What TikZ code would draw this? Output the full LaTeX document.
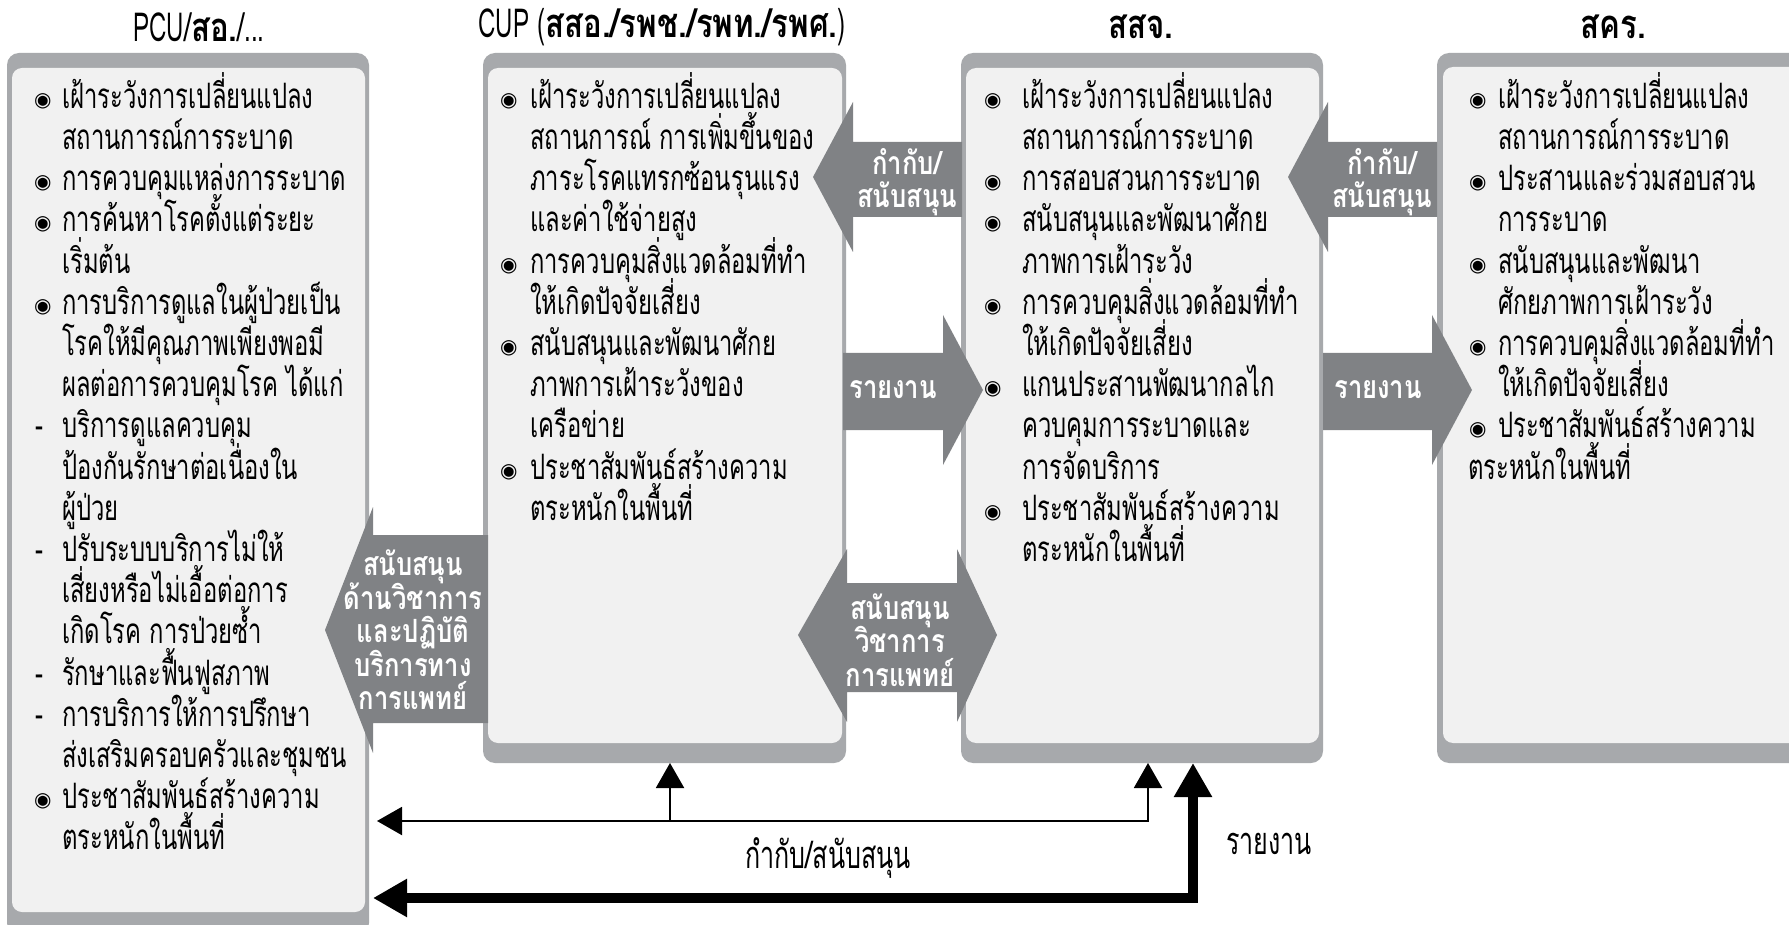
\documentclass[tikz,border=0pt]{standalone}
\usepackage{fontspec}
\usetikzlibrary{arrows.meta}
\newfontfamily\bodyfont[Script=Thai,FakeStretch=0.68]{Loma}
\newfontfamily\condfont[Script=Thai,FakeStretch=0.66]{Loma}
\newfontfamily\ttlfont[Script=Thai,FakeStretch=0.78]{Loma}
\newfontfamily\latfont[FakeStretch=0.6]{Loma}
\newfontfamily\lblfont[Script=Thai,FakeStretch=0.8]{Loma}
\newfontfamily\symfont{DejaVu Sans}
\definecolor{outerg}{HTML}{A7A9AC}
\definecolor{innerg}{HTML}{F1F1F1}
\definecolor{arrg}{HTML}{808285}
\setlength{\lineskiplimit}{-100pt}
\newcommand\bul[1]{\makebox[#1][l]{\raisebox{2pt}{\symfont\fontsize{20pt}{20pt}\selectfont ◉}}}
\newcommand\dsh[1]{\makebox[#1][l]{\hspace*{1pt}-}}
\newcommand\ind[1]{\hspace*{#1}}
\newcommand\tall{\rule{0pt}{40pt}}
\tikzset{
  obox/.style={fill=outerg, rounded corners=12pt, inner sep=0pt, outer sep=0pt, anchor=north west},
  ibox/.style={fill=innerg, rounded corners=10pt},
  body/.style={font=\bodyfont\fontsize{35pt}{41.2pt}\selectfont, align=left, inner sep=0pt, anchor=north west},
  ttl/.style={font=\ttlfont\bfseries\fontsize{40pt}{44pt}\selectfont, inner sep=0pt},
  lbl/.style={font=\lblfont\bfseries\fontsize{32pt}{33.5pt}\selectfont, text=white, align=center, inner sep=0pt},
  blabel/.style={font=\condfont\fontsize{38pt}{42pt}\selectfont, inner sep=0pt},
  thinln/.style={line width=2pt, draw=black},
  thickln/.style={line width=10pt, draw=black},
  tipthin/.tip={Triangle[length=25pt,width=28pt]},
  tipthick/.tip={Triangle[length=34pt,width=36pt]},
}
\begin{document}
\begin{tikzpicture}[x=1pt,y=-1pt]
\clip (0,0) rectangle (1789,925);
\fill[white] (0,0) rectangle (1789,925);

% titles
\node[ttl] (t1) at (199,27) {{\latfont\mdseries PCU/}สอ.{\latfont\mdseries /...}};
\node[ttl] (t2) at (662,27) {{\latfont\mdseries CUP (}สสอ./รพช./รพท./รพศ.{\latfont\mdseries )}};
\node[ttl] (t3) at (1141,27) {สสจ.};
\node[ttl] (t4) at (1613,27) {สคร.};

% boxes
\node[obox, minimum width=362pt, minimum height=882pt] (pcu) at (7,53) {};
\fill[ibox] (12,68) rectangle (365,912);
\node[obox, minimum width=363pt, minimum height=710pt] (cup) at (483,53) {};
\fill[ibox] (488,68) rectangle (842,743);
\node[obox, minimum width=362pt, minimum height=710pt] (ssj) at (961,53) {};
\fill[ibox] (966,68) rectangle (1319,743);
\node[obox, minimum width=380pt, minimum height=710pt] (skr) at (1437,53) {};
\fill[ibox] (1443,67) rectangle (1820,743);

% texts
\node[body] (pcutxt) at (34,68) {\tall\bul{28pt}เฝ้าระวังการเปลี่ยนแปลง\\
\ind{28pt}สถานการณ์การระบาด\\
\bul{28pt}การควบคุมแหล่งการระบาด\\
\bul{28pt}การค้นหาโรคตั้งแต่ระยะ\\
\ind{28pt}เริ่มต้น\\
\bul{28pt}การบริการดูแลในผู้ป่วยเป็น\\
\ind{28pt}โรคให้มีคุณภาพเพียงพอมี\\
\ind{28pt}ผลต่อการควบคุมโรค ได้แก่\\
\dsh{28pt}บริการดูแลควบคุม\\
\ind{28pt}ป้องกันรักษาต่อเนื่องใน\\
\ind{28pt}ผู้ป่วย\\
\dsh{28pt}ปรับระบบบริการไม่ให้\\
\ind{28pt}เสี่ยงหรือไม่เอื้อต่อการ\\
\ind{28pt}เกิดโรค การป่วยซ้ำ\\
\dsh{28pt}รักษาและฟื้นฟูสภาพ\\
\dsh{28pt}การบริการให้การปรึกษา\\
\ind{28pt}ส่งเสริมครอบครัวและชุมชน\\
\bul{28pt}ประชาสัมพันธ์สร้างความ\\
\ind{28pt}ตระหนักในพื้นที่};

\node[body] (cuptxt) at (500,68) {\tall\bul{30pt}เฝ้าระวังการเปลี่ยนแปลง\\
\ind{30pt}สถานการณ์ การเพิ่มขึ้นของ\\
\ind{30pt}ภาระโรคแทรกซ้อนรุนแรง\\
\ind{30pt}และค่าใช้จ่ายสูง\\
\bul{30pt}การควบคุมสิ่งแวดล้อมที่ทำ\\
\ind{30pt}ให้เกิดปัจจัยเสี่ยง\\
\bul{30pt}สนับสนุนและพัฒนาศักย\\
\ind{30pt}ภาพการเฝ้าระวังของ\\
\ind{30pt}เครือข่าย\\
\bul{30pt}ประชาสัมพันธ์สร้างความ\\
\ind{30pt}ตระหนักในพื้นที่};

\node[body] (ssjtxt) at (984,68) {\tall\bul{38pt}เฝ้าระวังการเปลี่ยนแปลง\\
\ind{38pt}สถานการณ์การระบาด\\
\bul{38pt}การสอบสวนการระบาด\\
\bul{38pt}สนับสนุนและพัฒนาศักย\\
\ind{38pt}ภาพการเฝ้าระวัง\\
\bul{38pt}การควบคุมสิ่งแวดล้อมที่ทำ\\
\ind{38pt}ให้เกิดปัจจัยเสี่ยง\\
\bul{38pt}แกนประสานพัฒนากลไก\\
\ind{38pt}ควบคุมการระบาดและ\\
\ind{38pt}การจัดบริการ\\
\bul{38pt}ประชาสัมพันธ์สร้างความ\\
\ind{38pt}ตระหนักในพื้นที่};

\node[body] (skrtxt) at (1468,68) {\tall\ind{1pt}\bul{29pt}เฝ้าระวังการเปลี่ยนแปลง\\
\ind{30pt}สถานการณ์การระบาด\\
\ind{1pt}\bul{29pt}ประสานและร่วมสอบสวน\\
\ind{30pt}การระบาด\\
\ind{1pt}\bul{29pt}สนับสนุนและพัฒนา\\
\ind{30pt}ศักยภาพการเฝ้าระวัง\\
\ind{1pt}\bul{29pt}การควบคุมสิ่งแวดล้อมที่ทำ\\
\ind{30pt}ให้เกิดปัจจัยเสี่ยง\\
\ind{1pt}\bul{29pt}ประชาสัมพันธ์สร้างความ\\
ตระหนักในพื้นที่};

% grey block arrows
\fill[arrg] (813,177) -- (853,102) -- (853,142) -- (962,142) -- (962,217) -- (853,217) -- (853,252) -- cycle;
\node[lbl] (a1) at (907,182) {กำกับ/\\สนับสนุน};
\fill[arrg] (1288,177) -- (1328,102) -- (1328,142) -- (1437,142) -- (1437,217) -- (1328,217) -- (1328,252) -- cycle;
\node[lbl] (a2) at (1382,182) {กำกับ/\\สนับสนุน};
\fill[arrg] (843,353) -- (943,353) -- (943,315) -- (983,390) -- (943,465) -- (943,430) -- (843,430) -- cycle;
\node[lbl] (r1) at (893,390) {รายงาน};
\fill[arrg] (1323,353) -- (1432,353) -- (1432,315) -- (1472,390) -- (1432,465) -- (1432,430) -- (1323,430) -- cycle;
\node[lbl] (r2) at (1378,390) {รายงาน};
\fill[arrg] (325,630) -- (373,507) -- (373,535) -- (488,535) -- (488,723) -- (373,723) -- (373,753) -- cycle;
\node[lbl] (lb) at (413,630) {สนับสนุน\\ด้านวิชาการ\\และปฏิบัติ\\บริการทาง\\การแพทย์};
\fill[arrg] (798,635) -- (847,549) -- (847,583) -- (957,583) -- (957,549) -- (997,635) -- (957,722) -- (957,692) -- (847,692) -- (847,722) -- cycle;
\node[lbl] (db) at (900,640) {สนับสนุน\\วิชาการ\\การแพทย์};

% bottom connectors
\coordinate (j1) at (1148,821);
\coordinate (j2) at (670,821);
\coordinate (k1) at (1193,898);
\draw[thinln, tipthin-tipthin] ([xshift=8pt]pcu.east |- j1) -- (j1) -- (ssj.south -| j1);
\draw[thinln, -tipthin] (j2) -- (cup.south -| j2);
\draw[thickln, tipthick-tipthick] ([xshift=4pt]pcu.east |- k1) -- (k1) -- (ssj.south -| k1);
\node[blabel] (bl1) at (828,858) {กำกับ/สนับสนุน};
\node[blabel] (bl2) at (1269,844) {รายงาน};
\end{tikzpicture}
\end{document}
